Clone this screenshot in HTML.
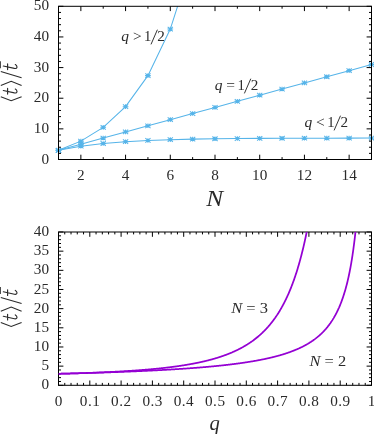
<!DOCTYPE html><html><head><meta charset="utf-8"><style>html,body{margin:0;padding:0;background:#fff}svg{display:block}</style></head><body><svg width="374" height="434" viewBox="0 0 374 434">
<rect width="374" height="434" fill="#fff"/>
<clipPath id="c1"><rect x="54.5" y="6.3" width="321.0" height="157.2"/></clipPath>
<clipPath id="c2"><rect x="58.5" y="232.0" width="313.0" height="153.3"/></clipPath>
<g clip-path="url(#c1)" stroke="#56b4e9" fill="none" stroke-width="1.05">
<polyline points="58.50,150.31 80.86,141.12 103.21,127.33 125.57,106.65 147.93,75.62 170.29,29.09 192.64,-40.71 215.00,-145.42 237.36,-302.47 259.71,-538.05 282.07,-891.42 304.43,-1421.48 326.79,-2216.56 349.14,-3409.19 371.50,-5198.14"/>
<path stroke-width="1.05" d="M55.65 150.31H61.35M58.50 148.01V152.61M55.90 148.06L61.10 152.56M55.90 152.56L61.10 148.06"/>
<path stroke-width="1.05" d="M78.01 141.12H83.71M80.86 138.82V143.42M78.26 138.87L83.46 143.37M78.26 143.37L83.46 138.87"/>
<path stroke-width="1.05" d="M100.36 127.33H106.06M103.21 125.03V129.63M100.61 125.08L105.81 129.58M100.61 129.58L105.81 125.08"/>
<path stroke-width="1.05" d="M122.72 106.65H128.42M125.57 104.35V108.95M122.97 104.40L128.17 108.90M122.97 108.90L128.17 104.40"/>
<path stroke-width="1.05" d="M145.08 75.62H150.78M147.93 73.32V77.92M145.33 73.37L150.53 77.87M145.33 77.87L150.53 73.37"/>
<path stroke-width="1.05" d="M167.44 29.09H173.14M170.29 26.79V31.39M167.69 26.84L172.89 31.34M167.69 31.34L172.89 26.84"/>
<polyline points="58.50,150.31 80.86,144.18 103.21,138.05 125.57,131.92 147.93,125.80 170.29,119.67 192.64,113.54 215.00,107.41 237.36,101.28 259.71,95.16 282.07,89.03 304.43,82.90 326.79,76.77 349.14,70.64 371.50,64.52"/>
<path stroke-width="1.05" d="M55.65 150.31H61.35M58.50 148.01V152.61M55.90 148.06L61.10 152.56M55.90 152.56L61.10 148.06"/>
<path stroke-width="1.05" d="M78.01 144.18H83.71M80.86 141.88V146.48M78.26 141.93L83.46 146.43M78.26 146.43L83.46 141.93"/>
<path stroke-width="1.05" d="M100.36 138.05H106.06M103.21 135.75V140.35M100.61 135.80L105.81 140.30M100.61 140.30L105.81 135.80"/>
<path stroke-width="1.05" d="M122.72 131.92H128.42M125.57 129.62V134.22M122.97 129.67L128.17 134.17M122.97 134.17L128.17 129.67"/>
<path stroke-width="1.05" d="M145.08 125.80H150.78M147.93 123.50V128.10M145.33 123.55L150.53 128.05M145.33 128.05L150.53 123.55"/>
<path stroke-width="1.05" d="M167.44 119.67H173.14M170.29 117.37V121.97M167.69 117.42L172.89 121.92M167.69 121.92L172.89 117.42"/>
<path stroke-width="1.05" d="M189.79 113.54H195.49M192.64 111.24V115.84M190.04 111.29L195.24 115.79M190.04 115.79L195.24 111.29"/>
<path stroke-width="1.05" d="M212.15 107.41H217.85M215.00 105.11V109.71M212.40 105.16L217.60 109.66M212.40 109.66L217.60 105.16"/>
<path stroke-width="1.05" d="M234.51 101.28H240.21M237.36 98.98V103.58M234.76 99.03L239.96 103.53M234.76 103.53L239.96 99.03"/>
<path stroke-width="1.05" d="M256.86 95.16H262.56M259.71 92.86V97.46M257.11 92.91L262.31 97.41M257.11 97.41L262.31 92.91"/>
<path stroke-width="1.05" d="M279.22 89.03H284.92M282.07 86.73V91.33M279.47 86.78L284.67 91.28M279.47 91.28L284.67 86.78"/>
<path stroke-width="1.05" d="M301.58 82.90H307.28M304.43 80.60V85.20M301.83 80.65L307.03 85.15M301.83 85.15L307.03 80.65"/>
<path stroke-width="1.05" d="M323.94 76.77H329.64M326.79 74.47V79.07M324.19 74.52L329.39 79.02M324.19 79.02L329.39 74.52"/>
<path stroke-width="1.05" d="M346.29 70.64H351.99M349.14 68.34V72.94M346.54 68.39L351.74 72.89M346.54 72.89L351.74 68.39"/>
<path stroke-width="1.05" d="M368.65 64.52H374.35M371.50 62.22V66.82M368.90 62.27L374.10 66.77M368.90 66.77L374.10 62.27"/>
<polyline points="58.50,150.31 80.86,146.22 103.21,143.50 125.57,141.68 147.93,140.47 170.29,139.67 192.64,139.13 215.00,138.77 237.36,138.53 259.71,138.37 282.07,138.26 304.43,138.19 326.79,138.15 349.14,138.11 371.50,138.09"/>
<path stroke-width="1.05" d="M55.65 150.31H61.35M58.50 148.01V152.61M55.90 148.06L61.10 152.56M55.90 152.56L61.10 148.06"/>
<path stroke-width="1.05" d="M78.01 146.22H83.71M80.86 143.92V148.52M78.26 143.97L83.46 148.47M78.26 148.47L83.46 143.97"/>
<path stroke-width="1.05" d="M100.36 143.50H106.06M103.21 141.20V145.80M100.61 141.25L105.81 145.75M100.61 145.75L105.81 141.25"/>
<path stroke-width="1.05" d="M122.72 141.68H128.42M125.57 139.38V143.98M122.97 139.43L128.17 143.93M122.97 143.93L128.17 139.43"/>
<path stroke-width="1.05" d="M145.08 140.47H150.78M147.93 138.17V142.77M145.33 138.22L150.53 142.72M145.33 142.72L150.53 138.22"/>
<path stroke-width="1.05" d="M167.44 139.67H173.14M170.29 137.37V141.97M167.69 137.42L172.89 141.92M167.69 141.92L172.89 137.42"/>
<path stroke-width="1.05" d="M189.79 139.13H195.49M192.64 136.83V141.43M190.04 136.88L195.24 141.38M190.04 141.38L195.24 136.88"/>
<path stroke-width="1.05" d="M212.15 138.77H217.85M215.00 136.47V141.07M212.40 136.52L217.60 141.02M212.40 141.02L217.60 136.52"/>
<path stroke-width="1.05" d="M234.51 138.53H240.21M237.36 136.23V140.83M234.76 136.28L239.96 140.78M234.76 140.78L239.96 136.28"/>
<path stroke-width="1.05" d="M256.86 138.37H262.56M259.71 136.07V140.67M257.11 136.12L262.31 140.62M257.11 140.62L262.31 136.12"/>
<path stroke-width="1.05" d="M279.22 138.26H284.92M282.07 135.96V140.56M279.47 136.01L284.67 140.51M279.47 140.51L284.67 136.01"/>
<path stroke-width="1.05" d="M301.58 138.19H307.28M304.43 135.89V140.49M301.83 135.94L307.03 140.44M301.83 140.44L307.03 135.94"/>
<path stroke-width="1.05" d="M323.94 138.15H329.64M326.79 135.85V140.45M324.19 135.90L329.39 140.40M324.19 140.40L329.39 135.90"/>
<path stroke-width="1.05" d="M346.29 138.11H351.99M349.14 135.81V140.41M346.54 135.86L351.74 140.36M346.54 140.36L351.74 135.86"/>
<path stroke-width="1.05" d="M368.65 138.09H374.35M371.50 135.79V140.39M368.90 135.84L374.10 140.34M368.90 140.34L374.10 135.84"/>
</g>
<g stroke="#000" stroke-width="1" fill="none">
<rect x="58.5" y="6.3" width="313.0" height="153.2"/>
<path d="M58.5 159.50h4.9M371.5 159.50h-4.9M58.5 153.37h2.5M371.5 153.37h-2.5M58.5 147.24h2.5M371.5 147.24h-2.5M58.5 141.12h2.5M371.5 141.12h-2.5M58.5 134.99h2.5M371.5 134.99h-2.5M58.5 128.86h4.9M371.5 128.86h-4.9M58.5 122.73h2.5M371.5 122.73h-2.5M58.5 116.60h2.5M371.5 116.60h-2.5M58.5 110.48h2.5M371.5 110.48h-2.5M58.5 104.35h2.5M371.5 104.35h-2.5M58.5 98.22h4.9M371.5 98.22h-4.9M58.5 92.09h2.5M371.5 92.09h-2.5M58.5 85.96h2.5M371.5 85.96h-2.5M58.5 79.84h2.5M371.5 79.84h-2.5M58.5 73.71h2.5M371.5 73.71h-2.5M58.5 67.58h4.9M371.5 67.58h-4.9M58.5 61.45h2.5M371.5 61.45h-2.5M58.5 55.32h2.5M371.5 55.32h-2.5M58.5 49.20h2.5M371.5 49.20h-2.5M58.5 43.07h2.5M371.5 43.07h-2.5M58.5 36.94h4.9M371.5 36.94h-4.9M58.5 30.81h2.5M371.5 30.81h-2.5M58.5 24.68h2.5M371.5 24.68h-2.5M58.5 18.56h2.5M371.5 18.56h-2.5M58.5 12.43h2.5M371.5 12.43h-2.5M58.5 6.30h4.9M371.5 6.30h-4.9M58.50 159.5v-2.4M58.50 6.3v2.4M80.86 159.5v-4.8M80.86 6.3v4.8M103.21 159.5v-2.4M103.21 6.3v2.4M125.57 159.5v-4.8M125.57 6.3v4.8M147.93 159.5v-2.4M147.93 6.3v2.4M170.29 159.5v-4.8M170.29 6.3v4.8M192.64 159.5v-2.4M192.64 6.3v2.4M215.00 159.5v-4.8M215.00 6.3v4.8M237.36 159.5v-2.4M237.36 6.3v2.4M259.71 159.5v-4.8M259.71 6.3v4.8M282.07 159.5v-2.4M282.07 6.3v2.4M304.43 159.5v-4.8M304.43 6.3v4.8M326.79 159.5v-2.4M326.79 6.3v2.4M349.14 159.5v-4.8M349.14 6.3v4.8M371.50 159.5v-2.4M371.50 6.3v2.4"/>
<rect x="58.5" y="232.0" width="313.0" height="153.3"/>
<path d="M58.5 385.30h4.9M371.5 385.30h-4.9M58.5 381.47h2.5M371.5 381.47h-2.5M58.5 377.63h2.5M371.5 377.63h-2.5M58.5 373.80h2.5M371.5 373.80h-2.5M58.5 369.97h2.5M371.5 369.97h-2.5M58.5 366.14h4.9M371.5 366.14h-4.9M58.5 362.31h2.5M371.5 362.31h-2.5M58.5 358.47h2.5M371.5 358.47h-2.5M58.5 354.64h2.5M371.5 354.64h-2.5M58.5 350.81h2.5M371.5 350.81h-2.5M58.5 346.98h4.9M371.5 346.98h-4.9M58.5 343.14h2.5M371.5 343.14h-2.5M58.5 339.31h2.5M371.5 339.31h-2.5M58.5 335.48h2.5M371.5 335.48h-2.5M58.5 331.64h2.5M371.5 331.64h-2.5M58.5 327.81h4.9M371.5 327.81h-4.9M58.5 323.98h2.5M371.5 323.98h-2.5M58.5 320.15h2.5M371.5 320.15h-2.5M58.5 316.31h2.5M371.5 316.31h-2.5M58.5 312.48h2.5M371.5 312.48h-2.5M58.5 308.65h4.9M371.5 308.65h-4.9M58.5 304.82h2.5M371.5 304.82h-2.5M58.5 300.99h2.5M371.5 300.99h-2.5M58.5 297.15h2.5M371.5 297.15h-2.5M58.5 293.32h2.5M371.5 293.32h-2.5M58.5 289.49h4.9M371.5 289.49h-4.9M58.5 285.65h2.5M371.5 285.65h-2.5M58.5 281.82h2.5M371.5 281.82h-2.5M58.5 277.99h2.5M371.5 277.99h-2.5M58.5 274.16h2.5M371.5 274.16h-2.5M58.5 270.33h4.9M371.5 270.33h-4.9M58.5 266.49h2.5M371.5 266.49h-2.5M58.5 262.66h2.5M371.5 262.66h-2.5M58.5 258.83h2.5M371.5 258.83h-2.5M58.5 255.00h2.5M371.5 255.00h-2.5M58.5 251.16h4.9M371.5 251.16h-4.9M58.5 247.33h2.5M371.5 247.33h-2.5M58.5 243.50h2.5M371.5 243.50h-2.5M58.5 239.66h2.5M371.5 239.66h-2.5M58.5 235.83h2.5M371.5 235.83h-2.5M58.5 232.00h4.9M371.5 232.00h-4.9M58.50 385.3v-4.8M58.50 232.0v4.8M64.76 385.3v-2.4M64.76 232.0v2.4M71.02 385.3v-2.4M71.02 232.0v2.4M77.28 385.3v-2.4M77.28 232.0v2.4M83.54 385.3v-2.4M83.54 232.0v2.4M89.80 385.3v-4.8M89.80 232.0v4.8M96.06 385.3v-2.4M96.06 232.0v2.4M102.32 385.3v-2.4M102.32 232.0v2.4M108.58 385.3v-2.4M108.58 232.0v2.4M114.84 385.3v-2.4M114.84 232.0v2.4M121.10 385.3v-4.8M121.10 232.0v4.8M127.36 385.3v-2.4M127.36 232.0v2.4M133.62 385.3v-2.4M133.62 232.0v2.4M139.88 385.3v-2.4M139.88 232.0v2.4M146.14 385.3v-2.4M146.14 232.0v2.4M152.40 385.3v-4.8M152.40 232.0v4.8M158.66 385.3v-2.4M158.66 232.0v2.4M164.92 385.3v-2.4M164.92 232.0v2.4M171.18 385.3v-2.4M171.18 232.0v2.4M177.44 385.3v-2.4M177.44 232.0v2.4M183.70 385.3v-4.8M183.70 232.0v4.8M189.96 385.3v-2.4M189.96 232.0v2.4M196.22 385.3v-2.4M196.22 232.0v2.4M202.48 385.3v-2.4M202.48 232.0v2.4M208.74 385.3v-2.4M208.74 232.0v2.4M215.00 385.3v-4.8M215.00 232.0v4.8M221.26 385.3v-2.4M221.26 232.0v2.4M227.52 385.3v-2.4M227.52 232.0v2.4M233.78 385.3v-2.4M233.78 232.0v2.4M240.04 385.3v-2.4M240.04 232.0v2.4M246.30 385.3v-4.8M246.30 232.0v4.8M252.56 385.3v-2.4M252.56 232.0v2.4M258.82 385.3v-2.4M258.82 232.0v2.4M265.08 385.3v-2.4M265.08 232.0v2.4M271.34 385.3v-2.4M271.34 232.0v2.4M277.60 385.3v-4.8M277.60 232.0v4.8M283.86 385.3v-2.4M283.86 232.0v2.4M290.12 385.3v-2.4M290.12 232.0v2.4M296.38 385.3v-2.4M296.38 232.0v2.4M302.64 385.3v-2.4M302.64 232.0v2.4M308.90 385.3v-4.8M308.90 232.0v4.8M315.16 385.3v-2.4M315.16 232.0v2.4M321.42 385.3v-2.4M321.42 232.0v2.4M327.68 385.3v-2.4M327.68 232.0v2.4M333.94 385.3v-2.4M333.94 232.0v2.4M340.20 385.3v-4.8M340.20 232.0v4.8M346.46 385.3v-2.4M346.46 232.0v2.4M352.72 385.3v-2.4M352.72 232.0v2.4M358.98 385.3v-2.4M358.98 232.0v2.4M365.24 385.3v-2.4M365.24 232.0v2.4M371.50 385.3v-4.8M371.50 232.0v4.8"/>
</g>
<g clip-path="url(#c2)" stroke="#9400d3" fill="none" stroke-width="1.75" stroke-linejoin="round">
<polyline points="58.50,373.80 58.81,373.79 59.13,373.79 59.44,373.78 59.75,373.77 60.06,373.76 60.38,373.76 60.69,373.75 61.00,373.74 61.32,373.73 61.63,373.73 61.94,373.72 62.26,373.71 62.57,373.70 62.88,373.69 63.20,373.69 63.51,373.68 63.82,373.67 64.13,373.66 64.45,373.65 64.76,373.65 65.07,373.64 65.39,373.63 65.70,373.62 66.01,373.61 66.33,373.61 66.64,373.60 66.95,373.59 67.26,373.58 67.58,373.57 67.89,373.57 68.20,373.56 68.52,373.55 68.83,373.54 69.14,373.53 69.45,373.52 69.77,373.52 70.08,373.51 70.39,373.50 70.71,373.49 71.02,373.48 71.33,373.47 71.65,373.47 71.96,373.46 72.27,373.45 72.58,373.44 72.90,373.43 73.21,373.42 73.52,373.42 73.84,373.41 74.15,373.40 74.46,373.39 74.78,373.38 75.09,373.37 75.40,373.36 75.72,373.36 76.03,373.35 76.34,373.34 76.65,373.33 76.97,373.32 77.28,373.31 77.59,373.30 77.91,373.30 78.22,373.29 78.53,373.28 78.84,373.27 79.16,373.26 79.47,373.25 79.78,373.24 80.10,373.23 80.41,373.23 80.72,373.22 81.04,373.21 81.35,373.20 81.66,373.19 81.97,373.18 82.29,373.17 82.60,373.16 82.91,373.15 83.23,373.15 83.54,373.14 83.85,373.13 84.17,373.12 84.48,373.11 84.79,373.10 85.11,373.09 85.42,373.08 85.73,373.07 86.04,373.06 86.36,373.05 86.67,373.04 86.98,373.04 87.30,373.03 87.61,373.02 87.92,373.01 88.23,373.00 88.55,372.99 88.86,372.98 89.17,372.97 89.49,372.96 89.80,372.95 90.11,372.94 90.43,372.93 90.74,372.92 91.05,372.91 91.37,372.90 91.68,372.89 91.99,372.88 92.30,372.87 92.62,372.86 92.93,372.86 93.24,372.85 93.56,372.84 93.87,372.83 94.18,372.82 94.50,372.81 94.81,372.80 95.12,372.79 95.43,372.78 95.75,372.77 96.06,372.76 96.37,372.75 96.69,372.74 97.00,372.73 97.31,372.72 97.62,372.71 97.94,372.70 98.25,372.69 98.56,372.68 98.88,372.67 99.19,372.66 99.50,372.65 99.82,372.64 100.13,372.63 100.44,372.62 100.75,372.61 101.07,372.60 101.38,372.59 101.69,372.58 102.01,372.57 102.32,372.55 102.63,372.54 102.95,372.53 103.26,372.52 103.57,372.51 103.88,372.50 104.20,372.49 104.51,372.48 104.82,372.47 105.14,372.46 105.45,372.45 105.76,372.44 106.08,372.43 106.39,372.42 106.70,372.41 107.02,372.40 107.33,372.39 107.64,372.37 107.95,372.36 108.27,372.35 108.58,372.34 108.89,372.33 109.21,372.32 109.52,372.31 109.83,372.30 110.15,372.29 110.46,372.28 110.77,372.27 111.08,372.25 111.40,372.24 111.71,372.23 112.02,372.22 112.34,372.21 112.65,372.20 112.96,372.19 113.28,372.18 113.59,372.17 113.90,372.15 114.21,372.14 114.53,372.13 114.84,372.12 115.15,372.11 115.47,372.10 115.78,372.09 116.09,372.07 116.41,372.06 116.72,372.05 117.03,372.04 117.34,372.03 117.66,372.02 117.97,372.00 118.28,371.99 118.60,371.98 118.91,371.97 119.22,371.96 119.53,371.95 119.85,371.93 120.16,371.92 120.47,371.91 120.79,371.90 121.10,371.89 121.41,371.87 121.73,371.86 122.04,371.85 122.35,371.84 122.66,371.83 122.98,371.81 123.29,371.80 123.60,371.79 123.92,371.78 124.23,371.76 124.54,371.75 124.86,371.74 125.17,371.73 125.48,371.72 125.80,371.70 126.11,371.69 126.42,371.68 126.73,371.67 127.05,371.65 127.36,371.64 127.67,371.63 127.99,371.62 128.30,371.60 128.61,371.59 128.93,371.58 129.24,371.56 129.55,371.55 129.86,371.54 130.18,371.53 130.49,371.51 130.80,371.50 131.12,371.49 131.43,371.47 131.74,371.46 132.06,371.45 132.37,371.43 132.68,371.42 132.99,371.41 133.31,371.40 133.62,371.38 133.93,371.37 134.25,371.36 134.56,371.34 134.87,371.33 135.19,371.32 135.50,371.30 135.81,371.29 136.12,371.27 136.44,371.26 136.75,371.25 137.06,371.23 137.38,371.22 137.69,371.21 138.00,371.19 138.31,371.18 138.63,371.17 138.94,371.15 139.25,371.14 139.57,371.12 139.88,371.11 140.19,371.10 140.51,371.08 140.82,371.07 141.13,371.05 141.44,371.04 141.76,371.02 142.07,371.01 142.38,371.00 142.70,370.98 143.01,370.97 143.32,370.95 143.64,370.94 143.95,370.92 144.26,370.91 144.57,370.90 144.89,370.88 145.20,370.87 145.51,370.85 145.83,370.84 146.14,370.82 146.45,370.81 146.77,370.79 147.08,370.78 147.39,370.76 147.70,370.75 148.02,370.73 148.33,370.72 148.64,370.70 148.96,370.69 149.27,370.67 149.58,370.66 149.90,370.64 150.21,370.63 150.52,370.61 150.83,370.60 151.15,370.58 151.46,370.56 151.77,370.55 152.09,370.53 152.40,370.52 152.71,370.50 153.03,370.49 153.34,370.47 153.65,370.45 153.97,370.44 154.28,370.42 154.59,370.41 154.90,370.39 155.22,370.37 155.53,370.36 155.84,370.34 156.16,370.33 156.47,370.31 156.78,370.29 157.09,370.28 157.41,370.26 157.72,370.24 158.03,370.23 158.35,370.21 158.66,370.20 158.97,370.18 159.29,370.16 159.60,370.15 159.91,370.13 160.23,370.11 160.54,370.10 160.85,370.08 161.16,370.06 161.48,370.04 161.79,370.03 162.10,370.01 162.42,369.99 162.73,369.98 163.04,369.96 163.36,369.94 163.67,369.92 163.98,369.91 164.29,369.89 164.61,369.87 164.92,369.85 165.23,369.84 165.55,369.82 165.86,369.80 166.17,369.78 166.48,369.77 166.80,369.75 167.11,369.73 167.42,369.71 167.74,369.69 168.05,369.68 168.36,369.66 168.68,369.64 168.99,369.62 169.30,369.60 169.62,369.58 169.93,369.57 170.24,369.55 170.55,369.53 170.87,369.51 171.18,369.49 171.49,369.47 171.81,369.45 172.12,369.43 172.43,369.42 172.75,369.40 173.06,369.38 173.37,369.36 173.68,369.34 174.00,369.32 174.31,369.30 174.62,369.28 174.94,369.26 175.25,369.24 175.56,369.22 175.88,369.20 176.19,369.18 176.50,369.16 176.81,369.14 177.13,369.12 177.44,369.10 177.75,369.08 178.07,369.06 178.38,369.04 178.69,369.02 179.00,369.00 179.32,368.98 179.63,368.96 179.94,368.94 180.26,368.92 180.57,368.90 180.88,368.88 181.20,368.86 181.51,368.84 181.82,368.82 182.13,368.80 182.45,368.78 182.76,368.76 183.07,368.73 183.39,368.71 183.70,368.69 184.01,368.67 184.33,368.65 184.64,368.63 184.95,368.61 185.27,368.59 185.58,368.56 185.89,368.54 186.20,368.52 186.52,368.50 186.83,368.48 187.14,368.45 187.46,368.43 187.77,368.41 188.08,368.39 188.39,368.36 188.71,368.34 189.02,368.32 189.33,368.30 189.65,368.27 189.96,368.25 190.27,368.23 190.59,368.21 190.90,368.18 191.21,368.16 191.53,368.14 191.84,368.11 192.15,368.09 192.46,368.07 192.78,368.04 193.09,368.02 193.40,368.00 193.72,367.97 194.03,367.95 194.34,367.93 194.66,367.90 194.97,367.88 195.28,367.85 195.59,367.83 195.91,367.80 196.22,367.78 196.53,367.76 196.85,367.73 197.16,367.71 197.47,367.68 197.78,367.66 198.10,367.63 198.41,367.61 198.72,367.58 199.04,367.56 199.35,367.53 199.66,367.51 199.98,367.48 200.29,367.45 200.60,367.43 200.91,367.40 201.23,367.38 201.54,367.35 201.85,367.33 202.17,367.30 202.48,367.27 202.79,367.25 203.11,367.22 203.42,367.19 203.73,367.17 204.05,367.14 204.36,367.11 204.67,367.09 204.98,367.06 205.30,367.03 205.61,367.01 205.92,366.98 206.24,366.95 206.55,366.92 206.86,366.90 207.17,366.87 207.49,366.84 207.80,366.81 208.11,366.78 208.43,366.76 208.74,366.73 209.05,366.70 209.37,366.67 209.68,366.64 209.99,366.61 210.31,366.58 210.62,366.56 210.93,366.53 211.24,366.50 211.56,366.47 211.87,366.44 212.18,366.41 212.50,366.38 212.81,366.35 213.12,366.32 213.44,366.29 213.75,366.26 214.06,366.23 214.37,366.20 214.69,366.17 215.00,366.14 215.31,366.11 215.63,366.08 215.94,366.04 216.25,366.01 216.56,365.98 216.88,365.95 217.19,365.92 217.50,365.89 217.82,365.86 218.13,365.82 218.44,365.79 218.76,365.76 219.07,365.73 219.38,365.70 219.69,365.66 220.01,365.63 220.32,365.60 220.63,365.57 220.95,365.53 221.26,365.50 221.57,365.47 221.89,365.43 222.20,365.40 222.51,365.36 222.83,365.33 223.14,365.30 223.45,365.26 223.76,365.23 224.08,365.19 224.39,365.16 224.70,365.12 225.02,365.09 225.33,365.05 225.64,365.02 225.96,364.98 226.27,364.95 226.58,364.91 226.89,364.88 227.21,364.84 227.52,364.80 227.83,364.77 228.15,364.73 228.46,364.70 228.77,364.66 229.09,364.62 229.40,364.58 229.71,364.55 230.02,364.51 230.34,364.47 230.65,364.43 230.96,364.40 231.28,364.36 231.59,364.32 231.90,364.28 232.22,364.24 232.53,364.20 232.84,364.17 233.15,364.13 233.47,364.09 233.78,364.05 234.09,364.01 234.41,363.97 234.72,363.93 235.03,363.89 235.34,363.85 235.66,363.81 235.97,363.77 236.28,363.72 236.60,363.68 236.91,363.64 237.22,363.60 237.54,363.56 237.85,363.52 238.16,363.47 238.47,363.43 238.79,363.39 239.10,363.35 239.41,363.30 239.73,363.26 240.04,363.22 240.35,363.17 240.67,363.13 240.98,363.09 241.29,363.04 241.60,363.00 241.92,362.95 242.23,362.91 242.54,362.86 242.86,362.82 243.17,362.77 243.48,362.73 243.80,362.68 244.11,362.63 244.42,362.59 244.73,362.54 245.05,362.49 245.36,362.45 245.67,362.40 245.99,362.35 246.30,362.31 246.61,362.26 246.93,362.21 247.24,362.16 247.55,362.11 247.86,362.06 248.18,362.01 248.49,361.96 248.80,361.91 249.12,361.86 249.43,361.81 249.74,361.76 250.06,361.71 250.37,361.66 250.68,361.61 251.00,361.56 251.31,361.51 251.62,361.45 251.93,361.40 252.25,361.35 252.56,361.30 252.87,361.24 253.19,361.19 253.50,361.14 253.81,361.08 254.12,361.03 254.44,360.97 254.75,360.92 255.06,360.86 255.38,360.81 255.69,360.75 256.00,360.70 256.32,360.64 256.63,360.58 256.94,360.52 257.25,360.47 257.57,360.41 257.88,360.35 258.19,360.29 258.51,360.23 258.82,360.18 259.13,360.12 259.45,360.06 259.76,360.00 260.07,359.94 260.38,359.88 260.70,359.81 261.01,359.75 261.32,359.69 261.64,359.63 261.95,359.57 262.26,359.50 262.58,359.44 262.89,359.38 263.20,359.31 263.51,359.25 263.83,359.19 264.14,359.12 264.45,359.06 264.77,358.99 265.08,358.92 265.39,358.86 265.71,358.79 266.02,358.72 266.33,358.66 266.64,358.59 266.96,358.52 267.27,358.45 267.58,358.38 267.90,358.31 268.21,358.24 268.52,358.17 268.84,358.10 269.15,358.03 269.46,357.96 269.77,357.88 270.09,357.81 270.40,357.74 270.71,357.66 271.03,357.59 271.34,357.51 271.65,357.44 271.97,357.36 272.28,357.29 272.59,357.21 272.91,357.13 273.22,357.06 273.53,356.98 273.84,356.90 274.16,356.82 274.47,356.74 274.78,356.66 275.10,356.58 275.41,356.50 275.72,356.42 276.03,356.34 276.35,356.25 276.66,356.17 276.97,356.09 277.29,356.00 277.60,355.92 277.91,355.83 278.23,355.75 278.54,355.66 278.85,355.57 279.16,355.48 279.48,355.40 279.79,355.31 280.10,355.22 280.42,355.13 280.73,355.04 281.04,354.95 281.36,354.85 281.67,354.76 281.98,354.67 282.29,354.57 282.61,354.48 282.92,354.38 283.23,354.29 283.55,354.19 283.86,354.09 284.17,353.99 284.49,353.90 284.80,353.80 285.11,353.70 285.42,353.59 285.74,353.49 286.05,353.39 286.36,353.29 286.68,353.18 286.99,353.08 287.30,352.97 287.62,352.87 287.93,352.76 288.24,352.65 288.56,352.54 288.87,352.43 289.18,352.32 289.49,352.21 289.81,352.10 290.12,351.99 290.43,351.87 290.75,351.76 291.06,351.64 291.37,351.53 291.69,351.41 292.00,351.29 292.31,351.17 292.62,351.05 292.94,350.93 293.25,350.81 293.56,350.68 293.88,350.56 294.19,350.44 294.50,350.31 294.81,350.18 295.13,350.05 295.44,349.92 295.75,349.79 296.07,349.66 296.38,349.53 296.69,349.40 297.01,349.26 297.32,349.13 297.63,348.99 297.94,348.85 298.26,348.71 298.57,348.57 298.88,348.43 299.20,348.29 299.51,348.14 299.82,348.00 300.14,347.85 300.45,347.70 300.76,347.55 301.08,347.40 301.39,347.25 301.70,347.10 302.01,346.94 302.33,346.78 302.64,346.63 302.95,346.47 303.27,346.31 303.58,346.14 303.89,345.98 304.21,345.82 304.52,345.65 304.83,345.48 305.14,345.31 305.46,345.14 305.77,344.97 306.08,344.79 306.40,344.62 306.71,344.44 307.02,344.26 307.34,344.08 307.65,343.89 307.96,343.71 308.27,343.52 308.59,343.33 308.90,343.14 309.21,342.95 309.53,342.76 309.84,342.56 310.15,342.36 310.47,342.16 310.78,341.96 311.09,341.75 311.40,341.55 311.72,341.34 312.03,341.13 312.34,340.91 312.66,340.70 312.97,340.48 313.28,340.26 313.59,340.04 313.91,339.81 314.22,339.58 314.53,339.35 314.85,339.12 315.16,338.88 315.47,338.65 315.79,338.41 316.10,338.16 316.41,337.92 316.72,337.67 317.04,337.42 317.35,337.16 317.66,336.90 317.98,336.64 318.29,336.38 318.60,336.11 318.92,335.84 319.23,335.57 319.54,335.29 319.85,335.01 320.17,334.73 320.48,334.44 320.79,334.15 321.11,333.86 321.42,333.56 321.73,333.26 322.05,332.95 322.36,332.65 322.67,332.33 322.99,332.02 323.30,331.69 323.61,331.37 323.92,331.04 324.24,330.71 324.55,330.37 324.86,330.02 325.18,329.68 325.49,329.32 325.80,328.97 326.12,328.61 326.43,328.24 326.74,327.87 327.05,327.49 327.37,327.11 327.68,326.72 327.99,326.32 328.31,325.92 328.62,325.52 328.93,325.11 329.25,324.69 329.56,324.27 329.87,323.84 330.18,323.40 330.50,322.96 330.81,322.51 331.12,322.05 331.44,321.58 331.75,321.11 332.06,320.63 332.38,320.15 332.69,319.65 333.00,319.15 333.31,318.64 333.63,318.12 333.94,317.59 334.25,317.06 334.57,316.51 334.88,315.95 335.19,315.39 335.50,314.82 335.82,314.23 336.13,313.64 336.44,313.03 336.76,312.41 337.07,311.79 337.38,311.15 337.70,310.50 338.01,309.83 338.32,309.16 338.63,308.47 338.95,307.77 339.26,307.05 339.57,306.32 339.89,305.58 340.20,304.82 340.51,304.04 340.83,303.25 341.14,302.45 341.45,301.62 341.76,300.78 342.08,299.92 342.39,299.05 342.70,298.15 343.02,297.24 343.33,296.30 343.64,295.34 343.96,294.37 344.27,293.36 344.58,292.34 344.90,291.29 345.21,290.22 345.52,289.12 345.83,287.99 346.15,286.84 346.46,285.65 346.77,284.44 347.09,283.20 347.40,281.92 347.71,280.61 348.03,279.27 348.34,277.89 348.65,276.47 348.96,275.01 349.28,273.51 349.59,271.97 349.90,270.38 350.22,268.75 350.53,267.06 350.84,265.33 351.16,263.54 351.47,261.70 351.78,259.80 352.09,257.84 352.41,255.81 352.72,253.72 353.03,251.55 353.35,249.31 353.66,246.99 353.97,244.59 354.28,242.10 354.60,239.52 354.91,236.84 355.22,234.06 355.54,231.17 355.85,228.17 356.16,225.04 356.48,221.78 356.79,218.38 357.10,214.84 357.41,211.13"/>
<polyline points="58.50,373.80 58.81,373.79 59.13,373.79 59.44,373.78 59.75,373.77 60.06,373.76 60.38,373.76 60.69,373.75 61.00,373.74 61.32,373.73 61.63,373.72 61.94,373.72 62.26,373.71 62.57,373.70 62.88,373.69 63.20,373.68 63.51,373.68 63.82,373.67 64.13,373.66 64.45,373.65 64.76,373.64 65.07,373.63 65.39,373.63 65.70,373.62 66.01,373.61 66.33,373.60 66.64,373.59 66.95,373.58 67.26,373.58 67.58,373.57 67.89,373.56 68.20,373.55 68.52,373.54 68.83,373.53 69.14,373.52 69.45,373.51 69.77,373.51 70.08,373.50 70.39,373.49 70.71,373.48 71.02,373.47 71.33,373.46 71.65,373.45 71.96,373.44 72.27,373.43 72.58,373.42 72.90,373.42 73.21,373.41 73.52,373.40 73.84,373.39 74.15,373.38 74.46,373.37 74.78,373.36 75.09,373.35 75.40,373.34 75.72,373.33 76.03,373.32 76.34,373.31 76.65,373.30 76.97,373.29 77.28,373.28 77.59,373.27 77.91,373.26 78.22,373.25 78.53,373.24 78.84,373.23 79.16,373.22 79.47,373.21 79.78,373.20 80.10,373.19 80.41,373.18 80.72,373.17 81.04,373.16 81.35,373.15 81.66,373.14 81.97,373.13 82.29,373.12 82.60,373.11 82.91,373.10 83.23,373.09 83.54,373.08 83.85,373.07 84.17,373.06 84.48,373.05 84.79,373.04 85.11,373.02 85.42,373.01 85.73,373.00 86.04,372.99 86.36,372.98 86.67,372.97 86.98,372.96 87.30,372.95 87.61,372.94 87.92,372.92 88.23,372.91 88.55,372.90 88.86,372.89 89.17,372.88 89.49,372.87 89.80,372.86 90.11,372.84 90.43,372.83 90.74,372.82 91.05,372.81 91.37,372.80 91.68,372.79 91.99,372.77 92.30,372.76 92.62,372.75 92.93,372.74 93.24,372.73 93.56,372.71 93.87,372.70 94.18,372.69 94.50,372.68 94.81,372.66 95.12,372.65 95.43,372.64 95.75,372.63 96.06,372.61 96.37,372.60 96.69,372.59 97.00,372.58 97.31,372.56 97.62,372.55 97.94,372.54 98.25,372.53 98.56,372.51 98.88,372.50 99.19,372.49 99.50,372.47 99.82,372.46 100.13,372.45 100.44,372.43 100.75,372.42 101.07,372.41 101.38,372.39 101.69,372.38 102.01,372.37 102.32,372.35 102.63,372.34 102.95,372.32 103.26,372.31 103.57,372.30 103.88,372.28 104.20,372.27 104.51,372.25 104.82,372.24 105.14,372.23 105.45,372.21 105.76,372.20 106.08,372.18 106.39,372.17 106.70,372.15 107.02,372.14 107.33,372.12 107.64,372.11 107.95,372.09 108.27,372.08 108.58,372.06 108.89,372.05 109.21,372.03 109.52,372.02 109.83,372.00 110.15,371.99 110.46,371.97 110.77,371.96 111.08,371.94 111.40,371.93 111.71,371.91 112.02,371.90 112.34,371.88 112.65,371.86 112.96,371.85 113.28,371.83 113.59,371.82 113.90,371.80 114.21,371.78 114.53,371.77 114.84,371.75 115.15,371.73 115.47,371.72 115.78,371.70 116.09,371.68 116.41,371.67 116.72,371.65 117.03,371.63 117.34,371.62 117.66,371.60 117.97,371.58 118.28,371.57 118.60,371.55 118.91,371.53 119.22,371.51 119.53,371.50 119.85,371.48 120.16,371.46 120.47,371.44 120.79,371.43 121.10,371.41 121.41,371.39 121.73,371.37 122.04,371.35 122.35,371.33 122.66,371.32 122.98,371.30 123.29,371.28 123.60,371.26 123.92,371.24 124.23,371.22 124.54,371.20 124.86,371.19 125.17,371.17 125.48,371.15 125.80,371.13 126.11,371.11 126.42,371.09 126.73,371.07 127.05,371.05 127.36,371.03 127.67,371.01 127.99,370.99 128.30,370.97 128.61,370.95 128.93,370.93 129.24,370.91 129.55,370.89 129.86,370.87 130.18,370.85 130.49,370.83 130.80,370.81 131.12,370.79 131.43,370.77 131.74,370.75 132.06,370.72 132.37,370.70 132.68,370.68 132.99,370.66 133.31,370.64 133.62,370.62 133.93,370.60 134.25,370.57 134.56,370.55 134.87,370.53 135.19,370.51 135.50,370.49 135.81,370.46 136.12,370.44 136.44,370.42 136.75,370.40 137.06,370.37 137.38,370.35 137.69,370.33 138.00,370.30 138.31,370.28 138.63,370.26 138.94,370.23 139.25,370.21 139.57,370.19 139.88,370.16 140.19,370.14 140.51,370.12 140.82,370.09 141.13,370.07 141.44,370.04 141.76,370.02 142.07,369.99 142.38,369.97 142.70,369.94 143.01,369.92 143.32,369.89 143.64,369.87 143.95,369.84 144.26,369.82 144.57,369.79 144.89,369.77 145.20,369.74 145.51,369.71 145.83,369.69 146.14,369.66 146.45,369.64 146.77,369.61 147.08,369.58 147.39,369.56 147.70,369.53 148.02,369.50 148.33,369.48 148.64,369.45 148.96,369.42 149.27,369.39 149.58,369.37 149.90,369.34 150.21,369.31 150.52,369.28 150.83,369.25 151.15,369.22 151.46,369.20 151.77,369.17 152.09,369.14 152.40,369.11 152.71,369.08 153.03,369.05 153.34,369.02 153.65,368.99 153.97,368.96 154.28,368.93 154.59,368.90 154.90,368.87 155.22,368.84 155.53,368.81 155.84,368.78 156.16,368.75 156.47,368.72 156.78,368.69 157.09,368.66 157.41,368.63 157.72,368.59 158.03,368.56 158.35,368.53 158.66,368.50 158.97,368.47 159.29,368.43 159.60,368.40 159.91,368.37 160.23,368.34 160.54,368.30 160.85,368.27 161.16,368.24 161.48,368.20 161.79,368.17 162.10,368.13 162.42,368.10 162.73,368.07 163.04,368.03 163.36,368.00 163.67,367.96 163.98,367.93 164.29,367.89 164.61,367.86 164.92,367.82 165.23,367.78 165.55,367.75 165.86,367.71 166.17,367.68 166.48,367.64 166.80,367.60 167.11,367.56 167.42,367.53 167.74,367.49 168.05,367.45 168.36,367.42 168.68,367.38 168.99,367.34 169.30,367.30 169.62,367.26 169.93,367.22 170.24,367.18 170.55,367.14 170.87,367.11 171.18,367.07 171.49,367.03 171.81,366.99 172.12,366.95 172.43,366.90 172.75,366.86 173.06,366.82 173.37,366.78 173.68,366.74 174.00,366.70 174.31,366.66 174.62,366.61 174.94,366.57 175.25,366.53 175.56,366.49 175.88,366.44 176.19,366.40 176.50,366.36 176.81,366.31 177.13,366.27 177.44,366.23 177.75,366.18 178.07,366.14 178.38,366.09 178.69,366.05 179.00,366.00 179.32,365.95 179.63,365.91 179.94,365.86 180.26,365.82 180.57,365.77 180.88,365.72 181.20,365.67 181.51,365.63 181.82,365.58 182.13,365.53 182.45,365.48 182.76,365.43 183.07,365.38 183.39,365.34 183.70,365.29 184.01,365.24 184.33,365.19 184.64,365.14 184.95,365.08 185.27,365.03 185.58,364.98 185.89,364.93 186.20,364.88 186.52,364.83 186.83,364.77 187.14,364.72 187.46,364.67 187.77,364.62 188.08,364.56 188.39,364.51 188.71,364.45 189.02,364.40 189.33,364.34 189.65,364.29 189.96,364.23 190.27,364.18 190.59,364.12 190.90,364.06 191.21,364.01 191.53,363.95 191.84,363.89 192.15,363.83 192.46,363.78 192.78,363.72 193.09,363.66 193.40,363.60 193.72,363.54 194.03,363.48 194.34,363.42 194.66,363.36 194.97,363.30 195.28,363.23 195.59,363.17 195.91,363.11 196.22,363.05 196.53,362.98 196.85,362.92 197.16,362.86 197.47,362.79 197.78,362.73 198.10,362.66 198.41,362.60 198.72,362.53 199.04,362.47 199.35,362.40 199.66,362.33 199.98,362.27 200.29,362.20 200.60,362.13 200.91,362.06 201.23,361.99 201.54,361.92 201.85,361.85 202.17,361.78 202.48,361.71 202.79,361.64 203.11,361.57 203.42,361.50 203.73,361.42 204.05,361.35 204.36,361.28 204.67,361.20 204.98,361.13 205.30,361.05 205.61,360.98 205.92,360.90 206.24,360.83 206.55,360.75 206.86,360.67 207.17,360.59 207.49,360.51 207.80,360.44 208.11,360.36 208.43,360.28 208.74,360.20 209.05,360.12 209.37,360.03 209.68,359.95 209.99,359.87 210.31,359.79 210.62,359.70 210.93,359.62 211.24,359.53 211.56,359.45 211.87,359.36 212.18,359.28 212.50,359.19 212.81,359.10 213.12,359.01 213.44,358.92 213.75,358.84 214.06,358.75 214.37,358.66 214.69,358.56 215.00,358.47 215.31,358.38 215.63,358.29 215.94,358.19 216.25,358.10 216.56,358.00 216.88,357.91 217.19,357.81 217.50,357.72 217.82,357.62 218.13,357.52 218.44,357.42 218.76,357.32 219.07,357.22 219.38,357.12 219.69,357.02 220.01,356.92 220.32,356.82 220.63,356.71 220.95,356.61 221.26,356.50 221.57,356.40 221.89,356.29 222.20,356.18 222.51,356.08 222.83,355.97 223.14,355.86 223.45,355.75 223.76,355.64 224.08,355.52 224.39,355.41 224.70,355.30 225.02,355.18 225.33,355.07 225.64,354.95 225.96,354.84 226.27,354.72 226.58,354.60 226.89,354.48 227.21,354.36 227.52,354.24 227.83,354.12 228.15,354.00 228.46,353.87 228.77,353.75 229.09,353.62 229.40,353.50 229.71,353.37 230.02,353.24 230.34,353.11 230.65,352.98 230.96,352.85 231.28,352.72 231.59,352.59 231.90,352.45 232.22,352.32 232.53,352.18 232.84,352.05 233.15,351.91 233.47,351.77 233.78,351.63 234.09,351.49 234.41,351.35 234.72,351.21 235.03,351.06 235.34,350.92 235.66,350.77 235.97,350.62 236.28,350.47 236.60,350.32 236.91,350.17 237.22,350.02 237.54,349.87 237.85,349.71 238.16,349.56 238.47,349.40 238.79,349.24 239.10,349.08 239.41,348.92 239.73,348.76 240.04,348.60 240.35,348.44 240.67,348.27 240.98,348.10 241.29,347.94 241.60,347.77 241.92,347.60 242.23,347.42 242.54,347.25 242.86,347.08 243.17,346.90 243.48,346.72 243.80,346.54 244.11,346.36 244.42,346.18 244.73,346.00 245.05,345.81 245.36,345.63 245.67,345.44 245.99,345.25 246.30,345.06 246.61,344.87 246.93,344.67 247.24,344.48 247.55,344.28 247.86,344.08 248.18,343.88 248.49,343.68 248.80,343.47 249.12,343.27 249.43,343.06 249.74,342.85 250.06,342.64 250.37,342.43 250.68,342.22 251.00,342.00 251.31,341.78 251.62,341.56 251.93,341.34 252.25,341.12 252.56,340.89 252.87,340.66 253.19,340.44 253.50,340.20 253.81,339.97 254.12,339.74 254.44,339.50 254.75,339.26 255.06,339.02 255.38,338.77 255.69,338.53 256.00,338.28 256.32,338.03 256.63,337.78 256.94,337.52 257.25,337.27 257.57,337.01 257.88,336.75 258.19,336.48 258.51,336.22 258.82,335.95 259.13,335.68 259.45,335.41 259.76,335.13 260.07,334.85 260.38,334.57 260.70,334.29 261.01,334.00 261.32,333.72 261.64,333.42 261.95,333.13 262.26,332.83 262.58,332.54 262.89,332.23 263.20,331.93 263.51,331.62 263.83,331.31 264.14,331.00 264.45,330.68 264.77,330.36 265.08,330.04 265.39,329.72 265.71,329.39 266.02,329.06 266.33,328.72 266.64,328.38 266.96,328.04 267.27,327.70 267.58,327.35 267.90,327.00 268.21,326.64 268.52,326.29 268.84,325.92 269.15,325.56 269.46,325.19 269.77,324.82 270.09,324.44 270.40,324.06 270.71,323.68 271.03,323.29 271.34,322.90 271.65,322.51 271.97,322.11 272.28,321.71 272.59,321.30 272.91,320.89 273.22,320.47 273.53,320.05 273.84,319.63 274.16,319.20 274.47,318.77 274.78,318.33 275.10,317.89 275.41,317.44 275.72,316.99 276.03,316.54 276.35,316.08 276.66,315.61 276.97,315.14 277.29,314.67 277.60,314.19 277.91,313.70 278.23,313.21 278.54,312.71 278.85,312.21 279.16,311.71 279.48,311.20 279.79,310.68 280.10,310.16 280.42,309.63 280.73,309.09 281.04,308.55 281.36,308.01 281.67,307.45 281.98,306.89 282.29,306.33 282.61,305.76 282.92,305.18 283.23,304.60 283.55,304.01 283.86,303.41 284.17,302.81 284.49,302.19 284.80,301.58 285.11,300.95 285.42,300.32 285.74,299.68 286.05,299.03 286.36,298.38 286.68,297.72 286.99,297.05 287.30,296.37 287.62,295.68 287.93,294.99 288.24,294.29 288.56,293.58 288.87,292.86 289.18,292.13 289.49,291.40 289.81,290.65 290.12,289.90 290.43,289.13 290.75,288.36 291.06,287.58 291.37,286.79 291.69,285.98 292.00,285.17 292.31,284.35 292.62,283.52 292.94,282.68 293.25,281.82 293.56,280.96 293.88,280.08 294.19,279.20 294.50,278.30 294.81,277.39 295.13,276.47 295.44,275.54 295.75,274.59 296.07,273.64 296.38,272.67 296.69,271.68 297.01,270.69 297.32,269.68 297.63,268.66 297.94,267.62 298.26,266.57 298.57,265.51 298.88,264.43 299.20,263.34 299.51,262.23 299.82,261.11 300.14,259.97 300.45,258.82 300.76,257.65 301.08,256.46 301.39,255.26 301.70,254.04 302.01,252.80 302.33,251.55 302.64,250.28 302.95,248.99 303.27,247.68 303.58,246.35 303.89,245.00 304.21,243.63 304.52,242.25 304.83,240.84 305.14,239.41 305.46,237.96 305.77,236.49 306.08,235.00 306.40,233.49 306.71,231.95 307.02,230.39 307.34,228.80 307.65,227.19 307.96,225.56 308.27,223.90 308.59,222.21 308.90,220.50 309.21,218.76 309.53,217.00 309.84,215.21 310.15,213.38 310.47,211.53"/>
</g>
<g font-family="'Liberation Serif', serif" style="opacity:0.999">
<text transform="translate(49.00 163.60) scale(1.01 1)" text-anchor="end" font-size="15.1" fill="#2a2a2a" >0</text>
<text transform="translate(49.00 132.96) scale(1.01 1)" text-anchor="end" font-size="15.1" fill="#2a2a2a" >10</text>
<text transform="translate(49.00 102.32) scale(1.01 1)" text-anchor="end" font-size="15.1" fill="#2a2a2a" >20</text>
<text transform="translate(49.00 71.68) scale(1.01 1)" text-anchor="end" font-size="15.1" fill="#2a2a2a" >30</text>
<text transform="translate(49.00 41.04) scale(1.01 1)" text-anchor="end" font-size="15.1" fill="#2a2a2a" >40</text>
<text transform="translate(49.00 10.40) scale(1.01 1)" text-anchor="end" font-size="15.1" fill="#2a2a2a" >50</text>
<text transform="translate(80.86 179.70) scale(1.01 1)" text-anchor="middle" font-size="15.1" fill="#2a2a2a" >2</text>
<text transform="translate(125.57 179.70) scale(1.01 1)" text-anchor="middle" font-size="15.1" fill="#2a2a2a" >4</text>
<text transform="translate(170.29 179.70) scale(1.01 1)" text-anchor="middle" font-size="15.1" fill="#2a2a2a" >6</text>
<text transform="translate(215.00 179.70) scale(1.01 1)" text-anchor="middle" font-size="15.1" fill="#2a2a2a" >8</text>
<text transform="translate(259.71 179.70) scale(1.01 1)" text-anchor="middle" font-size="15.1" fill="#2a2a2a" >10</text>
<text transform="translate(304.43 179.70) scale(1.01 1)" text-anchor="middle" font-size="15.1" fill="#2a2a2a" >12</text>
<text transform="translate(349.14 179.70) scale(1.01 1)" text-anchor="middle" font-size="15.1" fill="#2a2a2a" >14</text>
<text transform="translate(49.00 389.40) scale(1.01 1)" text-anchor="end" font-size="15.1" fill="#2a2a2a" >0</text>
<text transform="translate(49.00 370.24) scale(1.01 1)" text-anchor="end" font-size="15.1" fill="#2a2a2a" >5</text>
<text transform="translate(49.00 351.08) scale(1.01 1)" text-anchor="end" font-size="15.1" fill="#2a2a2a" >10</text>
<text transform="translate(49.00 331.91) scale(1.01 1)" text-anchor="end" font-size="15.1" fill="#2a2a2a" >15</text>
<text transform="translate(49.00 312.75) scale(1.01 1)" text-anchor="end" font-size="15.1" fill="#2a2a2a" >20</text>
<text transform="translate(49.00 293.59) scale(1.01 1)" text-anchor="end" font-size="15.1" fill="#2a2a2a" >25</text>
<text transform="translate(49.00 274.43) scale(1.01 1)" text-anchor="end" font-size="15.1" fill="#2a2a2a" >30</text>
<text transform="translate(49.00 255.26) scale(1.01 1)" text-anchor="end" font-size="15.1" fill="#2a2a2a" >35</text>
<text transform="translate(49.00 236.10) scale(1.01 1)" text-anchor="end" font-size="15.1" fill="#2a2a2a" >40</text>
<text transform="translate(58.50 406.00) scale(1.01 1)" text-anchor="middle" font-size="15.1" fill="#2a2a2a" >0</text>
<text transform="translate(90.05 406.00) scale(1.01 1)" text-anchor="middle" font-size="15.1" fill="#2a2a2a" letter-spacing="0.5">0.1</text>
<text transform="translate(121.35 406.00) scale(1.01 1)" text-anchor="middle" font-size="15.1" fill="#2a2a2a" letter-spacing="0.5">0.2</text>
<text transform="translate(152.65 406.00) scale(1.01 1)" text-anchor="middle" font-size="15.1" fill="#2a2a2a" letter-spacing="0.5">0.3</text>
<text transform="translate(183.95 406.00) scale(1.01 1)" text-anchor="middle" font-size="15.1" fill="#2a2a2a" letter-spacing="0.5">0.4</text>
<text transform="translate(215.25 406.00) scale(1.01 1)" text-anchor="middle" font-size="15.1" fill="#2a2a2a" letter-spacing="0.5">0.5</text>
<text transform="translate(246.55 406.00) scale(1.01 1)" text-anchor="middle" font-size="15.1" fill="#2a2a2a" letter-spacing="0.5">0.6</text>
<text transform="translate(277.85 406.00) scale(1.01 1)" text-anchor="middle" font-size="15.1" fill="#2a2a2a" letter-spacing="0.5">0.7</text>
<text transform="translate(309.15 406.00) scale(1.01 1)" text-anchor="middle" font-size="15.1" fill="#2a2a2a" letter-spacing="0.5">0.8</text>
<text transform="translate(340.45 406.00) scale(1.01 1)" text-anchor="middle" font-size="15.1" fill="#2a2a2a" letter-spacing="0.5">0.9</text>
<text transform="translate(371.50 406.00) scale(1.01 1)" text-anchor="middle" font-size="15.1" fill="#2a2a2a" >1</text>
<text transform="translate(121.3 41) scale(1.06 1)" font-size="14.6" fill="#2a2a2a"><tspan font-style="italic">q</tspan> &gt;</text>
<text x="147.7" y="41" text-anchor="middle" font-size="14.6" fill="#2a2a2a">1</text>
<text transform="translate(161.1 41) scale(1.04 1)" text-anchor="middle" font-size="14.6" fill="#2a2a2a">2</text>
<path d="M151.0 44.4L157.4 29.7" stroke="#2a2a2a" stroke-width="0.95" fill="none"/>
<text transform="translate(214.7 90) scale(1.06 1)" font-size="14.6" fill="#2a2a2a"><tspan font-style="italic">q</tspan> =</text>
<text x="241.1" y="90" text-anchor="middle" font-size="14.6" fill="#2a2a2a">1</text>
<text transform="translate(254.5 90) scale(1.04 1)" text-anchor="middle" font-size="14.6" fill="#2a2a2a">2</text>
<path d="M244.39999999999998 93.4L250.79999999999998 78.7" stroke="#2a2a2a" stroke-width="0.95" fill="none"/>
<text transform="translate(304.4 127) scale(1.06 1)" font-size="14.6" fill="#2a2a2a"><tspan font-style="italic">q</tspan> &lt;</text>
<text x="330.79999999999995" y="127" text-anchor="middle" font-size="14.6" fill="#2a2a2a">1</text>
<text transform="translate(344.2 127) scale(1.04 1)" text-anchor="middle" font-size="14.6" fill="#2a2a2a">2</text>
<path d="M334.09999999999997 130.4L340.5 115.7" stroke="#2a2a2a" stroke-width="0.95" fill="none"/>
<text transform="translate(231.2 312.5) scale(1.13 1)" font-size="14.6" fill="#2a2a2a"><tspan font-style="italic">N</tspan> = 3</text>
<text transform="translate(309.4 366) scale(1.13 1)" font-size="14.6" fill="#2a2a2a"><tspan font-style="italic">N</tspan> = 2</text>
<text transform="translate(214.6 205.6) scale(1.12 1)" text-anchor="middle" font-size="22.6" font-style="italic" fill="#2a2a2a">N</text>
<text transform="translate(214.6 429.6) scale(1.0 1)" text-anchor="middle" font-size="20.6" font-style="italic" fill="#2a2a2a">q</text>
<g transform="translate(0 0)">
<path fill="none" stroke="#2a2a2a" stroke-width="1.05" stroke-linejoin="miter" d="M0.8 96.7L11.2 100.7L21.6 96.7M0.8 85.5L11.2 81.3L21.6 85.5M0.8 71.6L21.6 77.7M0.3 61.3V68.3"/>
<path transform="translate(0 0)" fill="none" stroke="#2a2a2a" stroke-width="1.15" stroke-linecap="round" d="M3.3 90.5L14.4 92.9Q17 93.4 17 91.5Q16.9 90 15.3 89.1M7.6 88.4V94.1"/>
<path transform="translate(0 -24.5)" fill="none" stroke="#2a2a2a" stroke-width="1.15" stroke-linecap="round" d="M3.3 90.5L14.4 92.9Q17 93.4 17 91.5Q16.9 90 15.3 89.1M7.6 88.4V94.1"/>
</g>
<g transform="translate(0 225.8)">
<path fill="none" stroke="#2a2a2a" stroke-width="1.05" stroke-linejoin="miter" d="M0.8 96.7L11.2 100.7L21.6 96.7M0.8 85.5L11.2 81.3L21.6 85.5M0.8 71.6L21.6 77.7M0.3 61.3V68.3"/>
<path transform="translate(0 0)" fill="none" stroke="#2a2a2a" stroke-width="1.15" stroke-linecap="round" d="M3.3 90.5L14.4 92.9Q17 93.4 17 91.5Q16.9 90 15.3 89.1M7.6 88.4V94.1"/>
<path transform="translate(0 -24.5)" fill="none" stroke="#2a2a2a" stroke-width="1.15" stroke-linecap="round" d="M3.3 90.5L14.4 92.9Q17 93.4 17 91.5Q16.9 90 15.3 89.1M7.6 88.4V94.1"/>
</g>
</g>
</svg></body></html>
